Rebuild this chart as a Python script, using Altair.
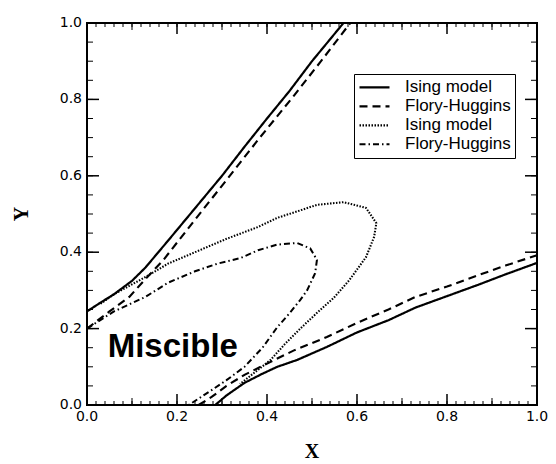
import altair as alt
import pandas as pd

# ---- data ----
ising_up_x = [0.0, 0.03, 0.06, 0.10, 0.13, 0.18, 0.24, 0.30, 0.35, 0.40, 0.45, 0.50, 0.57]
ising_up_y = [0.245, 0.268, 0.29, 0.325, 0.36, 0.43, 0.515, 0.60, 0.676, 0.75, 0.822, 0.90, 1.0]
ising_lo_x = [0.285, 0.31, 0.35, 0.39, 0.423, 0.467, 0.533, 0.60, 0.67, 0.73, 0.80, 0.87, 0.93, 1.0]
ising_lo_y = [0.0, 0.025, 0.058, 0.082, 0.10, 0.118, 0.152, 0.19, 0.222, 0.255, 0.285, 0.315, 0.342, 0.372]

fh_up_x = [0.0, 0.05, 0.094, 0.13, 0.17, 0.24, 0.31, 0.38, 0.46, 0.52, 0.585]
fh_up_y = [0.2, 0.245, 0.283, 0.33, 0.38, 0.485, 0.589, 0.694, 0.81, 0.90, 1.0]
fh_lo_x = [0.248, 0.277, 0.31, 0.35, 0.408, 0.46, 0.533, 0.60, 0.67, 0.73, 0.80, 0.87, 0.93, 1.0]
fh_lo_y = [0.0, 0.021, 0.05, 0.079, 0.113, 0.143, 0.178, 0.215, 0.25, 0.283, 0.31, 0.34, 0.365, 0.392]

ising2_x = [0.03, 0.06, 0.13, 0.18, 0.24, 0.31, 0.38, 0.423, 0.47, 0.511, 0.57, 0.62, 0.643, 0.638,
            0.62, 0.583, 0.548, 0.51, 0.474, 0.44, 0.408, 0.38, 0.34]
ising2_y = [0.265, 0.29, 0.335, 0.37, 0.40, 0.435, 0.466, 0.49, 0.508, 0.524, 0.531, 0.516, 0.476, 0.44,
            0.387, 0.327, 0.28, 0.24, 0.20, 0.16, 0.118, 0.092, 0.055]

fh2_x = [0.0, 0.06, 0.13, 0.18, 0.24, 0.29, 0.342, 0.38, 0.423, 0.467, 0.496, 0.511, 0.507, 0.489,
         0.474, 0.45, 0.423, 0.39, 0.35, 0.31, 0.277, 0.226]
fh2_y = [0.2, 0.245, 0.283, 0.32, 0.35, 0.37, 0.385, 0.405, 0.42, 0.424, 0.41, 0.38, 0.345, 0.30,
         0.275, 0.24, 0.204, 0.15, 0.10, 0.065, 0.039, 0.0]

series_keys = ["a", "b", "c", "d"]
series_names = ["Ising model", "Flory-Huggins", "Ising model", "Flory-Huggins"]

x_major = [0.0, 0.2, 0.4, 0.6, 0.8, 1.0]
x_medium = [0.1, 0.3, 0.5, 0.7, 0.9]
x_minor = [round(i * 0.02, 2) for i in range(51)]
y_major = [0.0, 0.2, 0.4, 0.6, 0.8, 1.0]
y_minor = [round(i * 0.05, 2) for i in range(21)]
tick_labels = ["0.0", "0.2", "0.4", "0.6", "0.8", "1.0"]
x_title = "X"
y_title = "Y"

annotation = {"x": 0.046, "y": 0.126, "text": "Miscible"}

# ---- table ----
rows = []
for key, branch, xs, ys in [
    ("a", "a1", ising_up_x, ising_up_y), ("a", "a2", ising_lo_x, ising_lo_y),
    ("b", "b1", fh_up_x, fh_up_y), ("b", "b2", fh_lo_x, fh_lo_y),
    ("c", "c1", ising2_x, ising2_y), ("d", "d1", fh2_x, fh2_y),
]:
    for i, (xv, yv) in enumerate(zip(xs, ys)):
        rows.append({"series": key, "branch": branch, "i": i, "x": xv, "y": yv})
df = pd.DataFrame(rows)

label_map = "{" + ",".join(f"'{k}':'{n}'" for k, n in zip(series_keys, series_names)) + "}"

W, H = 450, 382
sc = alt.Scale(domain=[0, 1], nice=False, zero=False)
LF = "Liberation Sans"
TF = "DejaVu Sans"

legend = alt.Legend(
    title=None, orient="none", legendX=267, legendY=51,
    labelExpr=f"{label_map}[datum.label]",
    symbolType="stroke", symbolSize=900, symbolStrokeColor="black",
    labelFont=LF, labelFontSize=17, labelColor="black", labelAlign="left",
    strokeColor="black", padding=4, rowPadding=0, clipHeight=18.7, labelOffset=14,
    fillColor="white",
)

lines = alt.Chart(df).mark_line(color="black").encode(
    x=alt.X("x:Q", scale=sc, axis=None),
    y=alt.Y("y:Q", scale=sc, axis=None),
    detail="branch:N",
    order="i:Q",
    strokeDash=alt.StrokeDash("series:N", scale=alt.Scale(
        domain=series_keys, range=[[1, 0], [8, 5], [1.5, 1.5], [6, 3, 1.5, 3]]), legend=legend),
    strokeWidth=alt.StrokeWidth("series:N", scale=alt.Scale(
        domain=series_keys, range=[2.2, 2.0, 1.2, 1.7]), legend=legend),
)

text = alt.Chart(pd.DataFrame([annotation])).mark_text(
    font=LF, fontSize=33, fontWeight="bold", align="left", baseline="alphabetic", color="black"
).encode(
    x=alt.X("x:Q", scale=sc, axis=None),
    y=alt.Y("y:Q", scale=sc, axis=None),
    text="text:N",
)


def tick_marks(values, side, length, width):
    d = pd.DataFrame({"v": values})
    if side in ("bottom", "top"):
        pos = H - length / 2 if side == "bottom" else length / 2
        return alt.Chart(d).mark_tick(
            orient="vertical", size=length, thickness=width, color="black", opacity=1
        ).encode(x=alt.X("v:Q", scale=sc, axis=None), y=alt.value(pos))
    pos = length / 2 if side == "left" else W - length / 2
    return alt.Chart(d).mark_tick(
        orient="horizontal", size=length, thickness=width, color="black", opacity=1
    ).encode(y=alt.Y("v:Q", scale=sc, axis=None), x=alt.value(pos))


ticks = []
for side in ["bottom", "top"]:
    ticks += [tick_marks(x_minor, side, 4, 1.0), tick_marks(x_medium, side, 7, 1.0),
              tick_marks(x_major, side, 11, 1.5)]
for side in ["left", "right"]:
    ticks += [tick_marks(y_minor, side, 6, 1.0), tick_marks(y_major, side, 12, 1.5)]

# tick labels (placed through the scales)
lab_df = pd.DataFrame({"v": x_major, "t": tick_labels})
x_labels = alt.Chart(lab_df).mark_text(
    font=TF, fontSize=14, align="center", baseline="top", color="black"
).encode(x=alt.X("v:Q", scale=sc, axis=None), y=alt.value(H + 5), text="t:N")
y_labels = alt.Chart(lab_df).mark_text(
    font=TF, fontSize=14, align="right", baseline="middle", color="black"
).encode(y=alt.Y("v:Q", scale=sc, axis=None), x=alt.value(-5), text="t:N")

title_font = dict(font="Liberation Serif", fontSize=20, fontWeight="bold", color="black")
x_tl = alt.Chart(pd.DataFrame({"t": [x_title]})).mark_text(
    align="center", baseline="alphabetic", **title_font
).encode(x=alt.value(W / 2), y=alt.value(H + 53), text="t:N")
y_tl = alt.Chart(pd.DataFrame({"t": [y_title]})).mark_text(
    align="center", baseline="middle", angle=270, **title_font
).encode(x=alt.value(-65), y=alt.value(H / 2), text="t:N")

chart = alt.layer(lines, text, x_labels, y_labels, x_tl, y_tl, *ticks).properties(
    width=W, height=H,
    autosize=alt.AutoSizeParams(type="none"),
    padding={"left": 79, "top": 15, "right": 11, "bottom": 59},
).configure_view(stroke="black", strokeWidth=2)

chart.save("out.html", embed_options={"renderer": "svg", "actions": False})
